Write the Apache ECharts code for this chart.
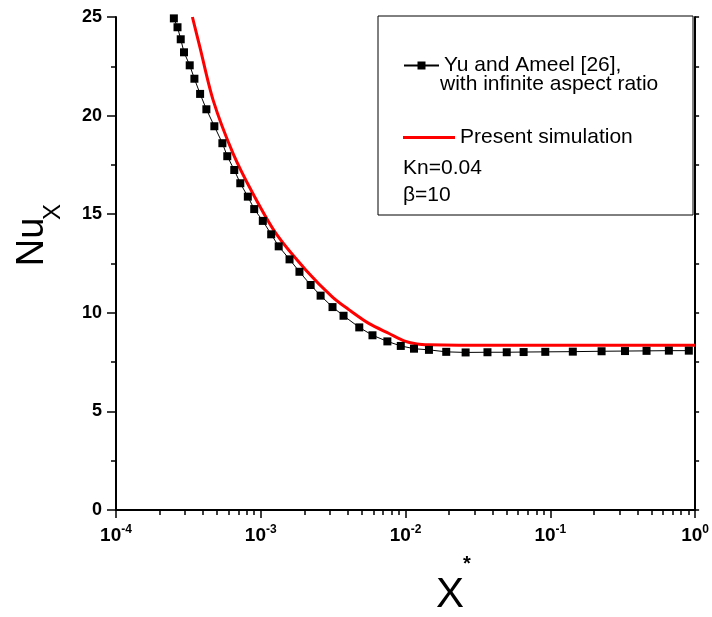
<!DOCTYPE html>
<html>
<head>
<meta charset="utf-8">
<script src="https://cdn.jsdelivr.net/npm/echarts@6/dist/echarts.min.js"></script>
<style>
html, body { margin: 0; padding: 0; background: #fff; }
#main { width: 712px; height: 617px; }
</style>
</head>
<body>
<div id="main"></div>
<script>
// Yu and Ameel [26] (squares)
var yuX = [2.51e-4, 2.66e-4, 2.80e-4, 2.95e-4, 3.23e-4, 3.48e-4, 3.81e-4, 4.21e-4, 4.78e-4, 5.43e-4,
    5.87e-4, 6.56e-4, 7.22e-4, 8.14e-4, 9.01e-4, 1.033e-3, 1.18e-3, 1.33e-3, 1.58e-3, 1.85e-3,
    2.21e-3, 2.59e-3, 3.13e-3, 3.73e-3, 4.79e-3, 5.91e-3, 7.49e-3, 9.27e-3, 1.144e-2, 1.451e-2,
    1.91e-2, 2.60e-2, 3.68e-2, 5.0e-2, 6.54e-2, 9.23e-2, 0.143, 0.226, 0.328, 0.462, 0.659, 0.905];
var yuY = [24.93, 24.48, 23.87, 23.21, 22.55, 21.87, 21.10, 20.32, 19.46, 18.60,
    17.94, 17.24, 16.57, 15.89, 15.26, 14.66, 13.98, 13.37, 12.71, 12.08,
    11.41, 10.87, 10.29, 9.85, 9.26, 8.86, 8.55, 8.32, 8.18, 8.12,
    8.02, 7.99, 8.0, 8.0, 8.01, 8.02, 8.03, 8.05, 8.06, 8.07, 8.08, 8.08];

// present simulation (red curve)
var simX = [3.37e-4, 3.79e-4, 4.68e-4, 6.42e-4, 8.82e-4, 1.28e-3, 2.06e-3, 3.13e-3, 4.08e-3, 5.61e-3,
    7.7e-3, 1.0e-2, 1.2e-2, 1.45e-2, 2.33e-2, 0.1, 1];
var simY = [25, 23.5, 20.8, 18.1, 16.05, 14.0, 12.15, 10.8, 10.15, 9.45,
    8.95, 8.55, 8.42, 8.38, 8.36, 8.36, 8.36];

var yuName = 'Yu and Ameel [26],';
var simName = 'Present simulation';
var noteLines = ['with infinite aspect ratio', 'Kn=0.04', 'β=10'];

function pairs(xs, ys) {
    var out = [];
    for (var i = 0; i < xs.length; i++) {
        out.push([xs[i], ys[i]]);
    }
    return out;
}

var font = "'Liberation Sans', Arial, sans-serif";
var myChart = echarts.init(document.getElementById('main'));

var option = {
    animation: false,
    backgroundColor: '#fff',
    grid: { left: 116, right: 15, top: 17, bottom: 107 },
    xAxis: [{
        type: 'log',
        logBase: 10,
        min: 1e-4,
        max: 1,
        axisLine: { lineStyle: { color: '#000', width: 2 } },
        axisTick: { inside: false, length: 8, lineStyle: { color: '#000', width: 1.5 } },
        minorTick: { show: true, splitNumber: 9, length: 5, lineStyle: { color: '#000', width: 1.5 } },
        splitLine: { show: false },
        minorSplitLine: { show: false },
        axisLabel: {
            margin: 14,
            formatter: function (v) {
                return '{b|10}{s|' + Math.round(Math.log(v) / Math.LN10) + '}';
            },
            rich: {
                b: { fontSize: 19, fontWeight: 'bold', fontFamily: font, color: '#000' },
                s: { fontSize: 12, fontWeight: 'bold', fontFamily: font, color: '#000', padding: [0, 0, 12, 0] }
            }
        }
    }, {
        type: 'log',
        logBase: 10,
        position: 'top',
        min: 1e-4,
        max: 1,
        axisLine: { lineStyle: { color: '#000', width: 2 } },
        axisTick: { show: false },
        axisLabel: { show: false },
        splitLine: { show: false }
    }],
    yAxis: [{
        type: 'value',
        min: 0,
        max: 25,
        interval: 5,
        axisLine: { show: true, lineStyle: { color: '#000', width: 2 } },
        axisTick: { inside: false, length: 9, lineStyle: { color: '#000', width: 1.5 } },
        minorTick: { show: true, splitNumber: 2, length: 5, lineStyle: { color: '#000', width: 1.5 } },
        splitLine: { show: false },
        axisLabel: { margin: 14, fontSize: 18, fontWeight: 'bold', fontFamily: font, color: '#000' }
    }, {
        type: 'value',
        position: 'right',
        min: 0,
        max: 25,
        interval: 2.5,
        axisLine: { show: true, lineStyle: { color: '#000', width: 2 } },
        axisTick: { inside: false, length: 4, lineStyle: { color: '#000', width: 1.5 } },
        splitLine: { show: false },
        axisLabel: { show: false }
    }],
    legend: [{
        data: [yuName],
        left: 403,
        top: 55,
        padding: 0,
        z: 10,
        itemWidth: 35,
        itemHeight: 10,
        selectedMode: false,
        textStyle: { fontSize: 21, fontFamily: font, color: '#000' }
    }, {
        data: [{ name: simName, icon: 'rect' }],
        left: 403,
        top: 127,
        padding: 0,
        z: 10,
        itemWidth: 52,
        itemHeight: 3,
        selectedMode: false,
        textStyle: { fontSize: 21, fontFamily: font, color: '#000' }
    }],
    graphic: [
        {
            type: 'rect',
            z: 1,
            shape: { x: 378, y: 16, width: 315, height: 199 },
            style: { fill: '#fff', stroke: '#000', lineWidth: 1 }
        },
        {
            type: 'text', z: 6, left: 440, top: 74,
            style: { text: noteLines[0], font: '21px ' + font, fill: '#000' }
        },
        {
            type: 'text', z: 6, left: 403, top: 158,
            style: { text: noteLines[1], font: '21px ' + font, fill: '#000' }
        },
        {
            type: 'text', z: 6, left: 403, top: 185,
            style: { text: noteLines[2], font: '21px ' + font, fill: '#000' }
        },
        {
            type: 'text', x: 33, y: 242, rotation: Math.PI / 2,
            style: { text: 'Nu', font: '38px ' + font, fill: '#000', align: 'center', verticalAlign: 'middle' }
        },
        {
            type: 'text', x: 53, y: 212, rotation: Math.PI / 2,
            style: { text: 'X', font: '24px ' + font, fill: '#000', align: 'center', verticalAlign: 'middle' }
        },
        {
            type: 'text', x: 450, y: 595,
            style: { text: 'X', font: '42px ' + font, fill: '#000', align: 'center', verticalAlign: 'middle' }
        },
        {
            type: 'text', x: 467, y: 564,
            style: { text: '*', font: 'bold 20px ' + font, fill: '#000', align: 'center', verticalAlign: 'middle' }
        }
    ],
    series: [{
        name: yuName,
        type: 'line',
        data: pairs(yuX, yuY),
        symbol: 'rect',
        symbolSize: 8,
        itemStyle: { color: '#000' },
        lineStyle: { color: '#000', width: 1 },
        z: 3
    }, {
        name: simName,
        type: 'line',
        data: pairs(simX, simY),
        smooth: 0.3,
        showSymbol: false,
        symbol: 'none',
        itemStyle: { color: '#ff0000' },
        lineStyle: { color: '#ff0000', width: 3 },
        z: 2
    }]
};
myChart.setOption(option);
</script>
</body>
</html>
